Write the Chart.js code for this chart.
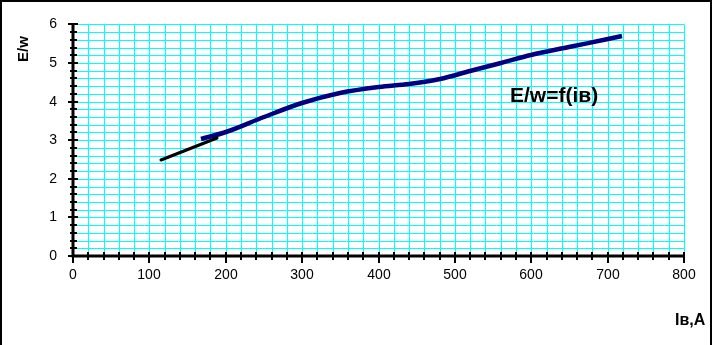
<!DOCTYPE html>
<html>
<head>
<meta charset="utf-8">
<script src="https://cdn.jsdelivr.net/npm/chart.js@4/dist/chart.umd.min.js"></script>
<style>
  html, body { margin: 0; padding: 0; background: #fff; }
  body { width: 712px; height: 345px; position: relative; overflow: hidden; font-family: "Liberation Sans", Arial, sans-serif; }
  #c { position: absolute; left: 0; top: 0; }
  #frame { position: absolute; left: 0; top: 0; width: 712px; height: 350px; box-sizing: border-box;
           border-left: 2px solid #000; border-top: 2px solid #000; border-right: 2px solid #000; pointer-events: none; }
  .lbl { position: absolute; font-weight: bold; color: #000; white-space: nowrap; line-height: 1; }
  #ytitle { left: 22px; top: 49px; font-size: 15px; transform: translate(-50%, -50%) rotate(-90deg); }
  #xtitle { left: 675px; top: 312px; font-size: 16px; }
  #ftitle { left: 510px; top: 84px; font-size: 21px; }
</style>
</head>
<body>
<canvas id="c" width="712" height="345"></canvas>
<div id="frame"></div>
<div class="lbl" id="ytitle">E/w</div>
<div class="lbl" id="xtitle">Iв,A</div>
<div class="lbl" id="ftitle">E/w=f(iв)</div>
<script>
// Curve E/w = f(iв) (blue)
const curveX = [167, 200, 250, 300, 350, 400, 440, 480, 520, 560, 600, 650, 700, 719];
const curveY = [3.02, 3.2, 3.6, 3.96, 4.21, 4.37, 4.46, 4.58, 4.79, 5.0, 5.2, 5.42, 5.62, 5.7];
// Short straight segment (black)
const lineX = [115, 188];
const lineY = [2.49, 3.05];
// Axis ranges / steps
const xMin = 0, xMax = 800, xMajor = 100, xMinor = 20;
const yMin = 0, yMax = 6, yMajor = 1, yMinor = 0.2;

const toPts = (xs, ys) => xs.map((x, i) => ({ x: x, y: ys[i] }));
const isMajor = (v, step) => Math.abs(v / step - Math.round(v / step)) < 1e-6;

const tickPlugin = {
  id: 'crossTicks',
  afterDraw(chart) {
    const ctx = chart.ctx;
    const xs = chart.scales.x, ys = chart.scales.y;
    const area = chart.chartArea;
    ctx.save();
    ctx.strokeStyle = '#000';
    ctx.lineWidth = 2;
    ctx.beginPath();
    for (let v = xMin; v <= xMax + 1e-9; v += xMinor) {
      const px = Math.round(xs.getPixelForValue(v));
      const maj = isMajor(v, xMajor);
      ctx.moveTo(px, area.bottom - 4);
      ctx.lineTo(px, area.bottom + (maj ? 7 : 4));
    }
    for (let k = 0; k <= Math.round((yMax - yMin) / yMinor); k++) {
      const v = yMin + k * yMinor;
      const py = Math.round(ys.getPixelForValue(v));
      const maj = isMajor(v, yMajor);
      ctx.moveTo(area.left - (maj ? 5 : 3), py);
      ctx.lineTo(area.left + (maj ? 5 : 4), py);
    }
    ctx.stroke();
    ctx.lineWidth = 3;
    ctx.beginPath();
    ctx.moveTo(area.left, area.top - 1);
    ctx.lineTo(area.left, area.bottom);
    ctx.lineTo(area.right + 1, area.bottom);
    ctx.stroke();
    ctx.restore();
  }
};

Chart.defaults.font.family = '"Liberation Sans", Arial, sans-serif';
Chart.defaults.color = '#000';

new Chart(document.getElementById('c'), {
  type: 'scatter',
  data: {
    datasets: [
      { data: toPts(lineX, lineY), showLine: true, borderColor: '#000000', borderWidth: 3,
        pointRadius: 0, tension: 0, borderCapStyle: 'round' },
      { data: toPts(curveX, curveY), showLine: true, borderColor: '#000080', borderWidth: 4.5,
        pointRadius: 0, cubicInterpolationMode: 'monotone', borderCapStyle: 'butt' }
    ]
  },
  options: {
    responsive: false,
    animation: false,
    events: [],
    layout: { padding: { left: 0, top: 22, right: 28, bottom: 0 } },
    plugins: { legend: { display: false }, tooltip: { enabled: false } },
    scales: {
      x: {
        type: 'linear', min: xMin, max: xMax, alignToPixels: true,
        afterFit(s) { s.height = 89; },
        grid: { color: '#00FFFF', lineWidth: 1, drawTicks: false },
        border: { display: false },
        ticks: {
          stepSize: xMinor, autoSkip: false, maxTicksLimit: 1000, maxRotation: 0, padding: 11,
          font: { size: 14 },
          callback: (v) => isMajor(v, xMajor) ? String(Math.round(v)) : ''
        }
      },
      y: {
        type: 'linear', min: yMin, max: yMax, alignToPixels: true,
        afterFit(s) { s.width = 73; },
        grid: { color: '#00FFFF', lineWidth: 1, drawTicks: false },
        border: { display: false },
        ticks: {
          stepSize: yMinor, autoSkip: false, maxTicksLimit: 1000, padding: 16,
          font: { size: 14 },
          callback: (v) => isMajor(v, yMajor) ? String(Math.round(v)) : ''
        }
      }
    }
  },
  plugins: [tickPlugin]
});
</script>
</body>
</html>
